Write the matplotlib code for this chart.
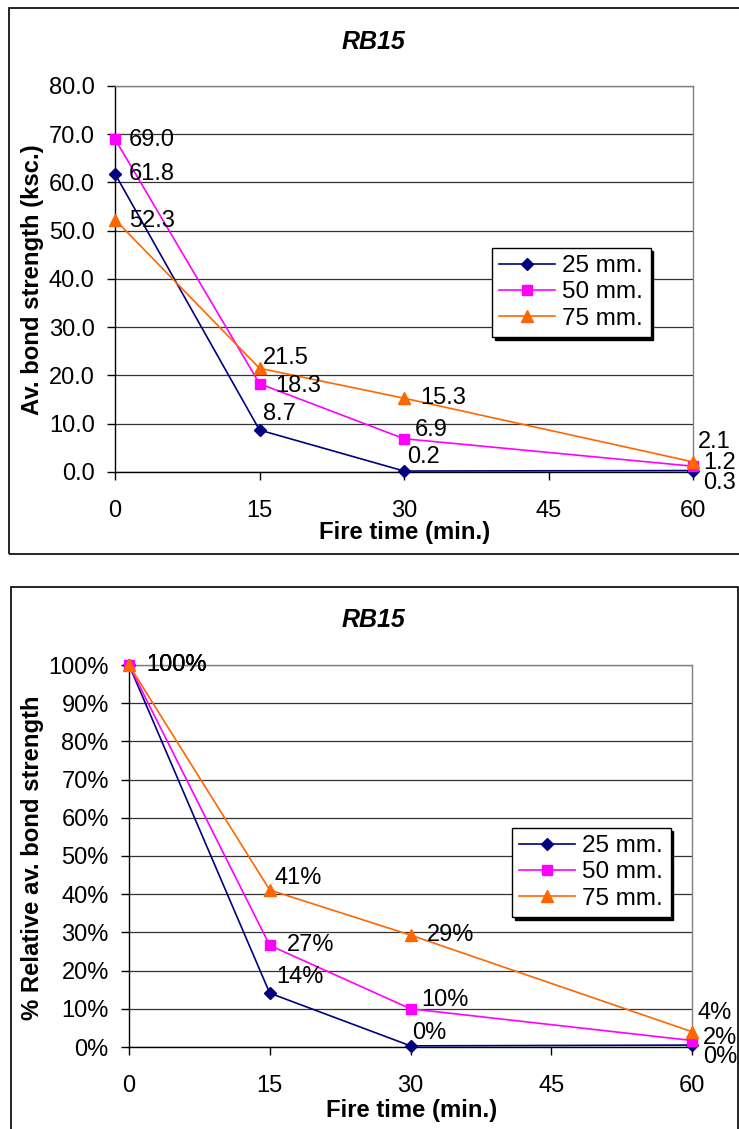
import matplotlib
matplotlib.use("Agg")
import matplotlib.pyplot as plt
from matplotlib.patches import Rectangle
from matplotlib.ticker import FormatStrFormatter, FuncFormatter

plt.rcParams['font.family'] = ['Liberation Sans', 'DejaVu Sans']

# data
fire_time = [0, 15, 30, 60]
series_names = ['25 mm.', '50 mm.', '75 mm.']
strength_25 = [61.8, 8.7, 0.2, 0.3]
strength_50 = [69.0, 18.3, 6.9, 1.2]
strength_75 = [52.3, 21.5, 15.3, 2.1]
relative_25 = [100, 14.1, 0.3, 0.5]
relative_50 = [100, 26.6, 10.0, 1.7]
relative_75 = [100, 41.1, 29.3, 4.0]
chart_title = 'RB15'

colors = ['#000080', '#FF00FF', '#FF6600']
markers = ['D', 's', '^']
msizes = [6.5, 7, 8]
FS = 17

W, H = 739, 1129
fig = plt.figure(figsize=(W / 100, H / 100), dpi=100)


def fx(px):
    return px / W


def fy(py):
    return 1 - py / H


def add_axes(left, top, right, bottom):
    return fig.add_axes([fx(left), fy(bottom), fx(right) - fx(left), (bottom - top) / H])


# outer chart frames
fig.patches.append(Rectangle((fx(9), fy(554)), fx(745) - fx(9), (554 - 8) / H,
                             transform=fig.transFigure, fill=False, ec='black', lw=1.2))
fig.patches.append(Rectangle((fx(11), fy(1140)), fx(738) - fx(11), (1140 - 587) / H,
                             transform=fig.transFigure, fill=False, ec='black', lw=1.2))


def style_axes(ax, ymax, ystep, fmt):
    ax.set_xlim(0, 60)
    ax.set_ylim(0, ymax)
    ax.set_xticks([0, 15, 30, 45, 60])
    ax.set_yticks(range(0, ymax + 1, ystep))
    ax.yaxis.set_major_formatter(fmt)
    ax.grid(axis='y', color='#333333', lw=0.9)
    ax.set_axisbelow(True)
    for s in ['top', 'right']:
        ax.spines[s].set_color('#808080')
        ax.spines[s].set_linewidth(1.0)
    for s in ['left', 'bottom']:
        ax.spines[s].set_color('black')
        ax.spines[s].set_linewidth(1.0)
    ax.tick_params(axis='y', direction='out', length=6, width=1, pad=8.5, labelsize=FS)
    ax.tick_params(axis='x', direction='out', length=6, width=1, pad=14, labelsize=FS)


def draw_panel(ax, series, labels, offsets):
    for i, ys in enumerate(series):
        ax.plot(fire_time, ys, color=colors[i], lw=1.2, marker=markers[i], ms=msizes[i],
                mec=colors[i], mfc=colors[i], label=series_names[i], clip_on=False, zorder=3)
    for i, ys in enumerate(series):
        for j, (x, y) in enumerate(zip(fire_time, ys)):
            dx, dy = offsets[i][j]
            ax.annotate(labels[i][j], (x, y), xytext=(dx, dy), textcoords='offset pixels',
                        ha='left', va='center', fontsize=FS, color='black',
                        annotation_clip=False, zorder=4)


def add_legend(ax, left, top):
    leg = ax.legend(loc='upper left', bbox_to_anchor=(fx(left), fy(top)),
                    bbox_transform=fig.transFigure, borderaxespad=0, fontsize=17.5,
                    frameon=True, fancybox=False, edgecolor='black', framealpha=1,
                    shadow={'color': 'black', 'alpha': 1}, handlelength=2.3,
                    handletextpad=0.3, labelspacing=0.17, borderpad=0.3)
    leg.get_frame().set_linewidth(1.0)


# ---- top panel ----
ax1 = add_axes(115, 86, 693, 472)
style_axes(ax1, 80, 10, FormatStrFormatter('%.1f'))
top_series = [strength_25, strength_50, strength_75]
top_labels = [[f'{v:.1f}' for v in s] for s in top_series]
top_offsets = [[(14, 0), (3, 16), (3, 14), (10, -12)],
               [(14, -1), (16, -2), (11, 9), (10, 3)],
               [(14, -1), (3, 10), (16, 0), (5, 20)]]
draw_panel(ax1, top_series, top_labels, top_offsets)
fig.text(fx(373), fy(42), chart_title, ha='center', va='center', fontsize=18,
         fontweight='bold', fontstyle='italic')
fig.text(fx(405), fy(532), 'Fire time (min.)', ha='center', va='center', fontsize=17.2,
         fontweight='bold')
fig.text(fx(33), fy(280), 'Av. bond strength (ksc.)', ha='center', va='center',
         fontsize=17.2, fontweight='bold', rotation=90)
add_legend(ax1, 492, 248)

# ---- bottom panel ----
ax2 = add_axes(129, 665, 692, 1047)
style_axes(ax2, 100, 10, FuncFormatter(lambda v, p: f'{v:.0f}%'))
bot_series = [relative_25, relative_50, relative_75]
bot_labels = [[f'{v:.0f}%' for v in s] for s in bot_series]
bot_offsets = [[(17, 0), (6, 16), (2, 13), (11, -12)],
               [(17, 0), (17, 0), (11, 9), (11, 3)],
               [(17, 0), (5, 12), (16, 0), (6, 19)]]
draw_panel(ax2, bot_series, bot_labels, bot_offsets)
fig.text(fx(373), fy(620), chart_title, ha='center', va='center', fontsize=18,
         fontweight='bold', fontstyle='italic')
fig.text(fx(412), fy(1111), 'Fire time (min.)', ha='center', va='center', fontsize=17.2,
         fontweight='bold')
fig.text(fx(33), fy(858), '% Relative av. bond strength', ha='center', va='center',
         fontsize=17.2, fontweight='bold', rotation=90)
add_legend(ax2, 512, 828)

fig.savefig('out.png', dpi=100)
